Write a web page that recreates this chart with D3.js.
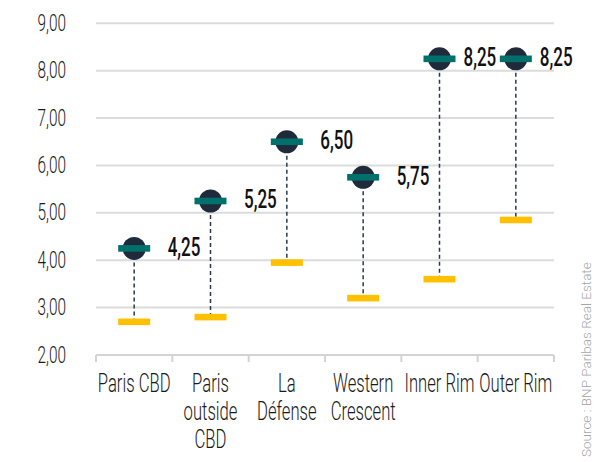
<!DOCTYPE html>
<html>
<head>
<meta charset="utf-8">
<script src="https://cdn.jsdelivr.net/npm/d3@7/dist/d3.min.js"></script>
<style>
  html, body { margin: 0; padding: 0; background: #fff; }
  svg { display: block; }
</style>
</head>
<body>
<svg id="chart" width="595" height="462"></svg>
<script>
(function () {
// ---- data ----
const categories = [["Paris CBD"], ["Paris", "outside", "CBD"], ["La", "Défense"], ["Western", "Crescent"], ["Inner Rim"], ["Outer Rim"]];
const primeYield = [4.25, 5.25, 6.50, 5.75, 8.25, 8.25];
const lowYield = [2.70, 2.80, 3.95, 3.20, 3.60, 4.85];
const yTicks = [2, 3, 4, 5, 6, 7, 8, 9];
const sourceText = "Source : BNP Paribas Real Estate";

// ---- layout ----
const mLeft = 96, mRight = 554, mTop = 23.3, mBottom = 355;
const svg = d3.select("#chart");
const fmt = v => v.toFixed(2).replace(".", ",");
const SX = 0.64;

const x = d3.scaleBand().domain(d3.range(categories.length)).range([mLeft, mRight]);
const y = d3.scaleLinear().domain([2, 9]).range([mBottom, mTop]);
const cxOf = i => x(i) + x.bandwidth() / 2;

// gridlines
svg.append("g").selectAll("line").data(yTicks.filter(t => t > 2)).join("line")
  .attr("x1", mLeft).attr("x2", mRight)
  .attr("y1", d => y(d)).attr("y2", d => y(d))
  .attr("stroke", "#dcdcdc").attr("stroke-width", 2);

// x axis
const xAxis = svg.append("g").attr("transform", `translate(0,${mBottom})`);
xAxis.append("line").attr("x1", mLeft).attr("x2", mRight).attr("stroke", "#d4d4d4").attr("stroke-width", 2);
const boundaries = d3.range(categories.length + 1).map(i => i < categories.length ? x(i) : x(i - 1) + x.bandwidth());
xAxis.selectAll("line.tick").data(boundaries).join("line").attr("class", "tick")
  .attr("x1", d => d).attr("x2", d => d).attr("y1", 0).attr("y2", 7)
  .attr("stroke", "#d4d4d4").attr("stroke-width", 2);

// x labels
categories.forEach((lines, i) => {
  lines.forEach((ln, j) => {
    svg.append("text")
      .attr("transform", `translate(${cxOf(i)},${391.5 + j * 28.3}) scale(${SX},1)`)
      .attr("text-anchor", "middle")
      .attr("font-family", "Roboto").attr("font-weight", 300).attr("font-size", 26)
      .attr("fill", "#1a1a1a").text(ln);
  });
});

// y labels
svg.append("g").selectAll("text").data(yTicks).join("text")
  .attr("transform", d => `translate(66,${y(d) + 7.5}) scale(${SX},1)`)
  .attr("text-anchor", "end")
  .attr("font-family", "Roboto").attr("font-weight", 300).attr("font-size", 24)
  .attr("fill", "#1a1a1a").text(d => fmt(d));

// dashed connectors
svg.append("g").selectAll("line").data(primeYield).join("line")
  .attr("x1", (d, i) => cxOf(i)).attr("x2", (d, i) => cxOf(i))
  .attr("y1", d => y(d)).attr("y2", (d, i) => y(lowYield[i]))
  .attr("stroke", "#2a3a4c").attr("stroke-width", 1.5).attr("stroke-dasharray", "4,3");

// low markers (yellow)
svg.append("g").selectAll("rect").data(lowYield).join("rect")
  .attr("x", (d, i) => cxOf(i) - 16).attr("width", 32)
  .attr("y", d => y(d) - 3.3).attr("height", 6.6)
  .attr("fill", "#ffc000");

// circles
svg.append("g").selectAll("circle").data(primeYield).join("circle")
  .attr("cx", (d, i) => cxOf(i)).attr("cy", d => y(d))
  .attr("r", 11.5).attr("fill", "#1f2b3a");

// teal bars
svg.append("g").selectAll("rect").data(primeYield).join("rect")
  .attr("x", (d, i) => cxOf(i) - 16).attr("width", 32)
  .attr("y", d => y(d) - 3.3).attr("height", 6.6)
  .attr("fill", "#00706c");

// value labels
svg.append("g").selectAll("text").data(primeYield).join("text")
  .attr("transform", (d, i) => `translate(${cxOf(i) + (i >= 4 ? 24 : 33.5)},${y(d) + 7.5}) scale(0.68,1)`)
  .attr("font-family", "Roboto").attr("font-weight", 500).attr("font-size", 25)
  .attr("fill", "#111").text(d => fmt(d));

// source
svg.append("text")
  .attr("transform", `translate(591,457) rotate(-90)`)
  .attr("font-family", "Roboto").attr("font-weight", 300).attr("font-size", 13.5)
  .attr("fill", "#a6a6a6").text(sourceText);
})();
</script>
</body>
</html>
